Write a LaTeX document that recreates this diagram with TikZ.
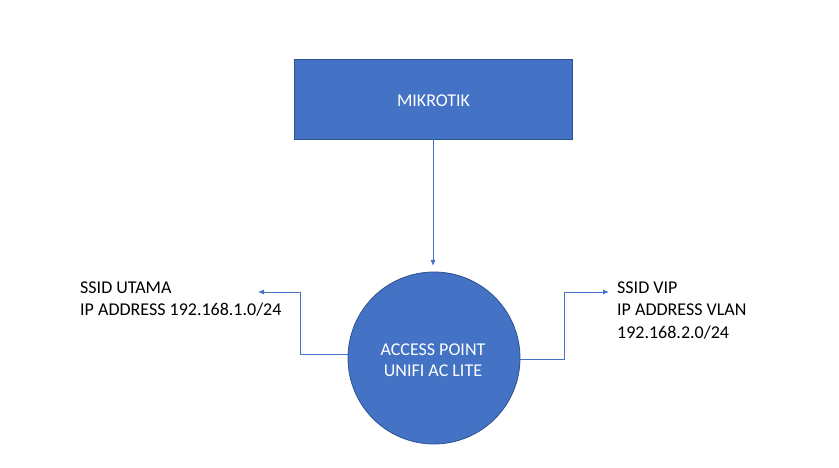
\documentclass[tikz,border=0pt]{standalone}
\usepackage{fontspec}
\setmainfont{Carlito}
\usetikzlibrary{arrows.meta}
\definecolor{boxblue}{HTML}{4472C4}
\definecolor{edgeblue}{HTML}{2F528F}
\tikzset{
  shapebox/.style={draw=edgeblue, line width=0.8pt, fill=boxblue, text=white, inner sep=0pt},
  conn/.style={draw=boxblue, line width=0.9pt, -{Latex[length=6pt,width=5pt]}},
  lbl/.style={anchor=base west, inner sep=0pt, font=\fontsize{18}{21}\selectfont, text=black},
  wlbl/.style={anchor=base, inner sep=0pt, font=\fontsize{18}{21}\selectfont, text=white},
}
\begin{document}
\begin{tikzpicture}[x=1pt,y=-1pt]
\useasboundingbox (0,0) rectangle (839,468);
\node[shapebox, rectangle, minimum width=278pt, minimum height=80pt] (mk) at (433,99) {};
\node[wlbl] (mkt) at (433.5,107) {MIKROTIK};
\node[shapebox, circle, minimum size=172pt] (ap) at (434,358) {};
\node[wlbl] (ap1) at (433,355) {ACCESS POINT};
\node[wlbl] (ap2) at (433,376) {UNIFI AC LITE};
\node[lbl] (l1) at (80,294) {SSID UTAMA};
\node[lbl] (l2) at (80,316) {IP ADDRESS 192.168.1.0/24};
\node[lbl] (r1) at (617,294) {SSID VIP};
\node[lbl] (r2) at (617,316) {IP ADDRESS VLAN};
\node[lbl] (r3) at (617,338) {192.168.2.0/24};
\coordinate (tl) at (258,292);
\coordinate (tr) at (609,292);
\coordinate (ttop) at (433,266);
\draw[conn] (mk.south -| ttop) -- (ttop);
\draw[conn] (ap.west |- 0,354) -- (300,354) -- (300,292) -- (tl);
\draw[conn] (ap.east |- 0,359) -- (564,359) -- (564,292) -- (tr);
\end{tikzpicture}
\end{document}
